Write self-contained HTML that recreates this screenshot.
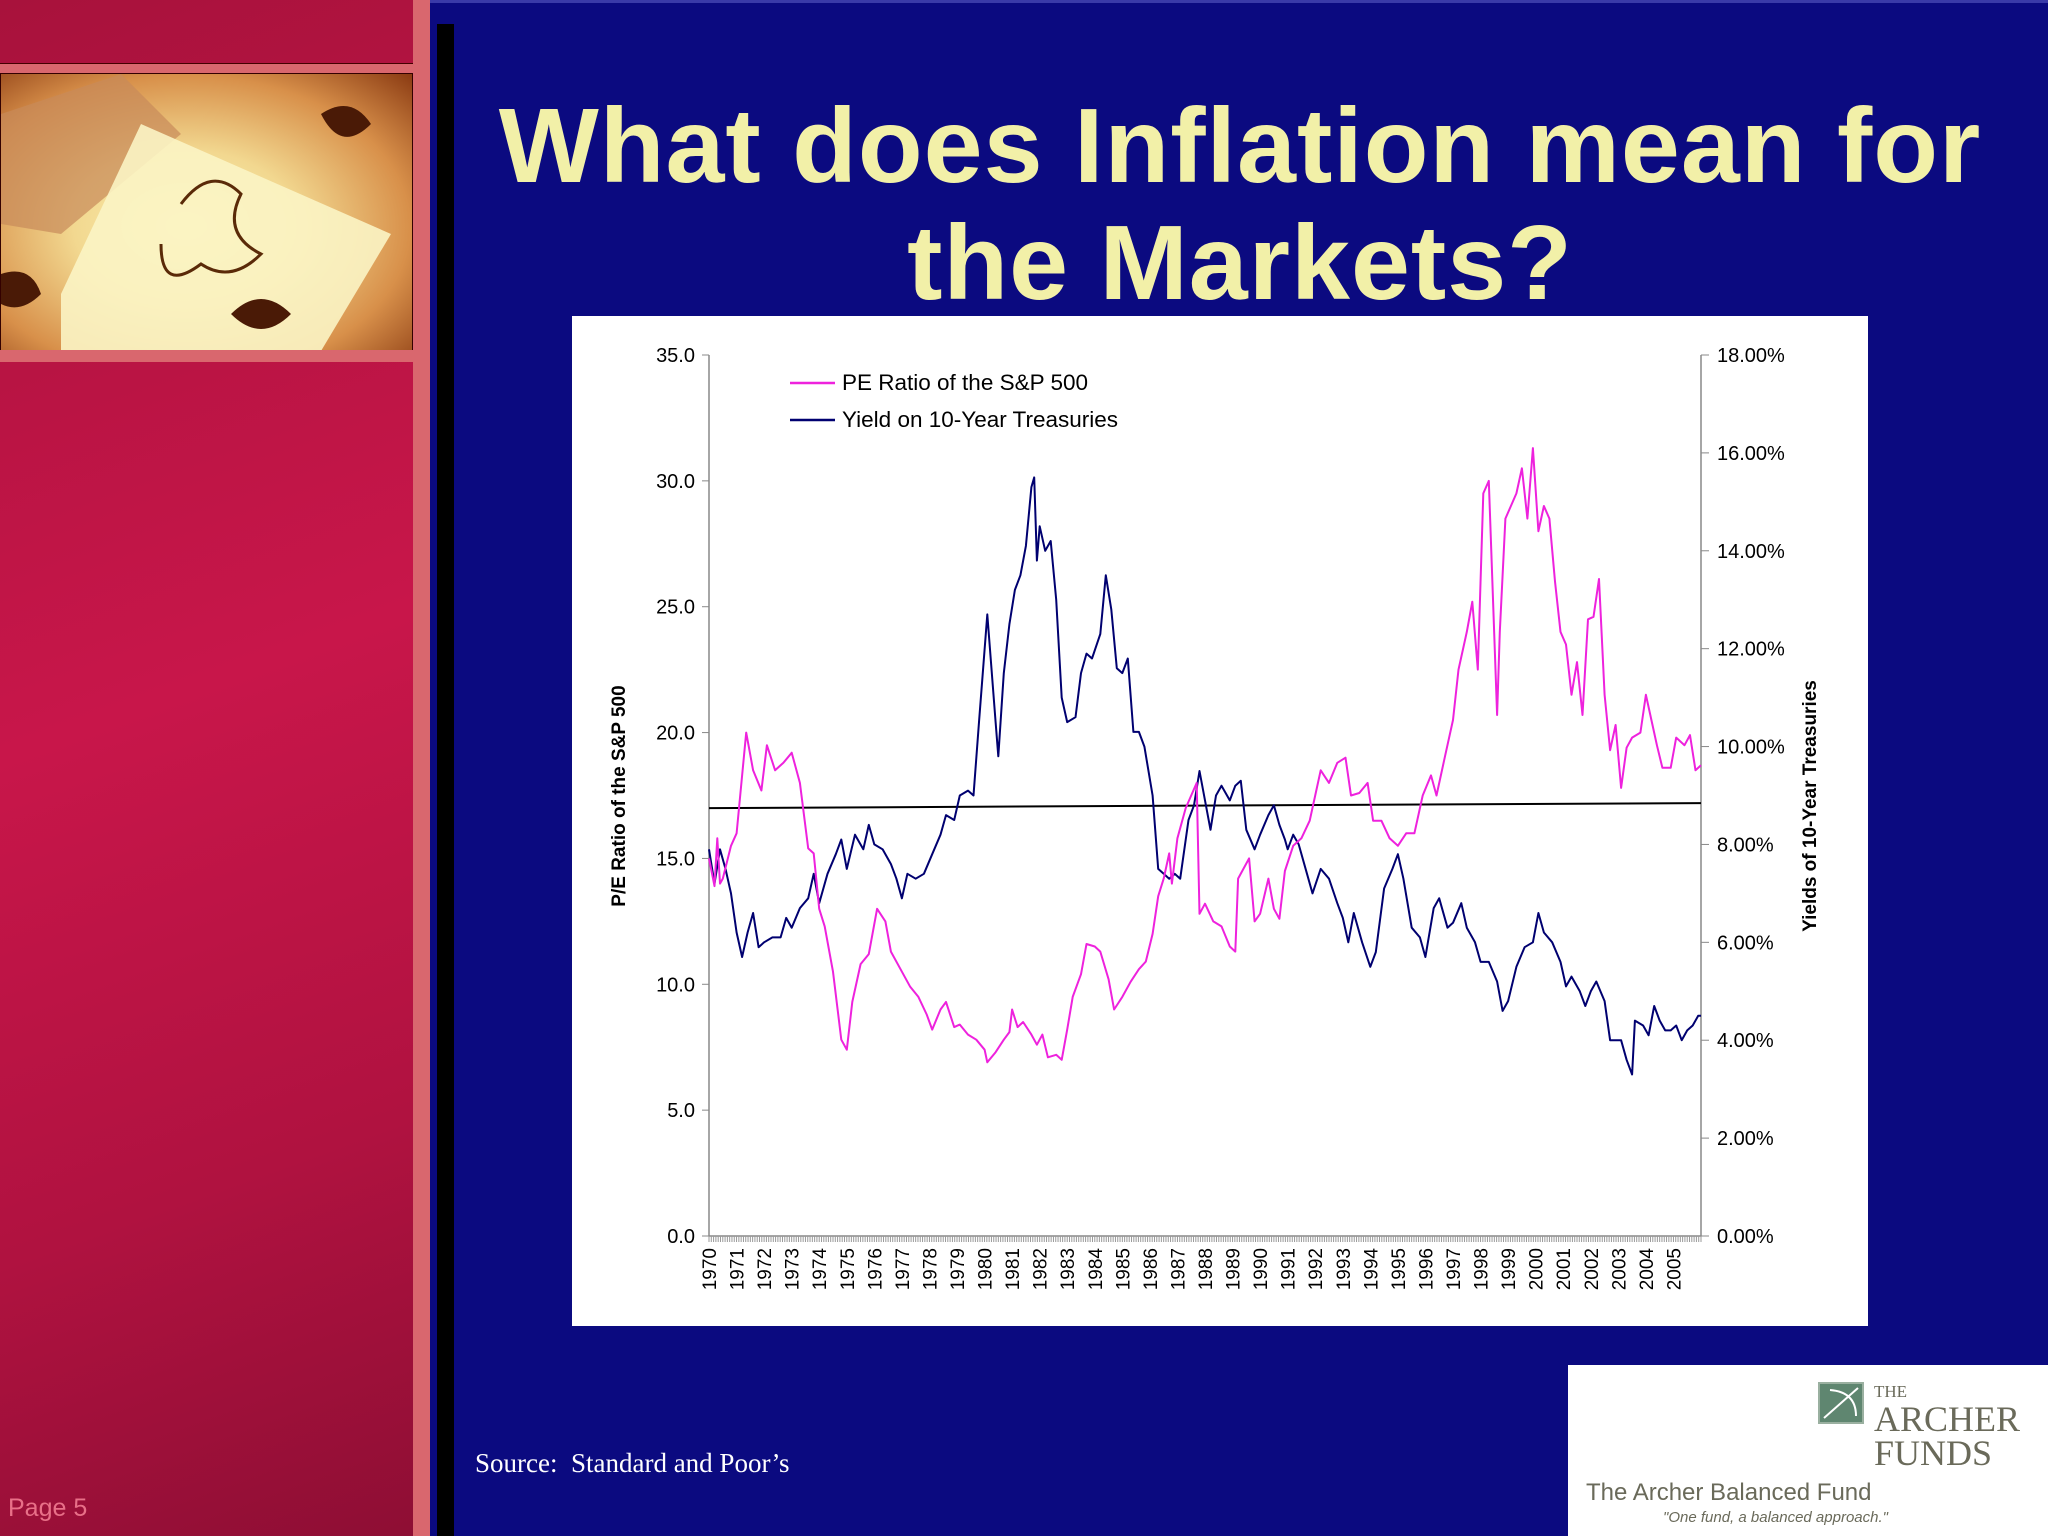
<!DOCTYPE html>
<html><head><meta charset="utf-8">
<style>
html,body{margin:0;padding:0}
body{width:2048px;height:1536px;position:relative;overflow:hidden;background:#0b0a80;font-family:"Liberation Sans",sans-serif}
.abs{position:absolute}
</style></head>
<body>
<div class="abs" style="left:0;top:0;width:2048px;height:3px;background:#3a3aa8"></div>
<div class="abs" style="left:0;top:0;width:413px;height:1536px;background:linear-gradient(160deg,#a8123c 0%,#c8164a 45%,#b01240 75%,#8e0e34 100%)"></div>
<div class="abs" style="left:0;top:63px;width:413px;height:10px;background:#d9676e;border-top:1px solid #400;"></div>
<div class="abs" style="left:0;top:73px;width:411px;height:277px;background:radial-gradient(ellipse at 45% 55%,#fbf1b0 0%,#f2d890 35%,#d8904a 70%,#8a3a12 100%);border:1px solid #300;overflow:hidden">
<svg width="411" height="277" viewBox="0 0 411 277"><path d="M0 40 L120 0 L180 60 L60 160 L0 150Z" fill="#c88a5a" opacity="0.7"/><path d="M60 220 L140 50 L390 160 L320 277 L60 277Z" fill="#fbf4c4" opacity="0.9"/><path d="M180 130 q30 -40 60 -10 q-20 40 20 60 q-30 30 -60 10 q-40 30 -40 -20" fill="none" stroke="#5a2a08" stroke-width="3"/><path d="M320 40 q30 -20 50 10 q-30 30 -50 -10Z" fill="#4a1a06"/><path d="M230 240 q30 -30 60 0 q-30 30 -60 0Z" fill="#4a1a06"/><path d="M0 200 q30 -10 40 20 q-20 20 -40 10Z" fill="#4a1a06"/></svg></div>
<div class="abs" style="left:0;top:350px;width:413px;height:12px;background:#d9676e"></div>
<div class="abs" style="left:413px;top:0;width:17px;height:1536px;background:#d9676e"></div>
<div class="abs" style="left:437px;top:24px;width:17px;height:1512px;background:#000"></div>
<div class="abs" style="left:8px;top:1494px;color:#e87088;font-size:25px">Page 5</div>
<div class="abs" style="left:460px;top:88px;width:1560px;text-align:center;color:#f2f0a8;font-weight:bold;font-size:106px;line-height:117px;letter-spacing:1px">What does Inflation mean for<br>the Markets?</div>
<div class="abs" style="left:475px;top:1448px;color:#fff;font-family:'Liberation Serif',serif;font-size:27px">Source:&nbsp; Standard and Poor’s</div>
<div class="abs" style="left:1568px;top:1365px;width:480px;height:171px;background:#fff">
<div class="abs" style="left:250px;top:17px;width:42px;height:38px;background:#5f8670;border:2px solid #9ab0a0"><svg width="42" height="38"><path d="M4 34 L38 4 M10 6 Q36 8 36 32" stroke="#fff" stroke-width="2" fill="none"/></svg></div>
<div class="abs" style="left:306px;top:14px;color:#6a6a5a;font-family:'Liberation Serif',serif;line-height:26px"><span style="font-size:17px">THE</span><br><span style="font-size:36px">ARCHER</span><br><span style="font-size:36px">FUNDS</span></div>
<div class="abs" style="left:18px;top:114px;color:#6a6a5a;font-size:24px">The Archer Balanced Fund</div>
<div class="abs" style="left:95px;top:144px;color:#6a6a5a;font-size:15px;font-style:italic">"One fund, a balanced approach."</div>
</div>
<div class="abs" style="left:572px;top:316px;width:1296px;height:1010px;background:#fff"></div>
<svg id="chart" class="abs" style="left:0;top:0" width="2048" height="1536"></svg>
<script>
const peDates=[1970.0,1970.2,1970.3,1970.4,1970.5,1970.8,1971.0,1971.35,1971.6,1971.9,1972.1,1972.4,1972.7,1973.0,1973.3,1973.6,1973.8,1974.0,1974.2,1974.5,1974.8,1975.0,1975.2,1975.5,1975.8,1976.1,1976.4,1976.6,1977.0,1977.3,1977.6,1977.9,1978.1,1978.4,1978.6,1978.9,1979.1,1979.4,1979.7,1980.0,1980.1,1980.4,1980.7,1980.9,1981.0,1981.2,1981.4,1981.7,1981.9,1982.1,1982.3,1982.6,1982.8,1983.0,1983.2,1983.5,1983.7,1984.0,1984.2,1984.5,1984.7,1985.0,1985.3,1985.6,1985.85,1986.1,1986.3,1986.5,1986.7,1986.8,1987.0,1987.3,1987.7,1987.8,1988.0,1988.3,1988.6,1988.9,1989.1,1989.2,1989.6,1989.8,1990.0,1990.3,1990.5,1990.7,1990.9,1991.2,1991.5,1991.8,1992.0,1992.2,1992.5,1992.8,1993.1,1993.3,1993.6,1993.9,1994.1,1994.4,1994.7,1995.0,1995.3,1995.6,1995.9,1996.2,1996.4,1996.7,1997.0,1997.2,1997.5,1997.7,1997.9,1998.1,1998.3,1998.6,1998.7,1998.9,1999.1,1999.3,1999.5,1999.7,1999.9,2000.1,2000.3,2000.5,2000.7,2000.9,2001.1,2001.3,2001.5,2001.7,2001.9,2002.1,2002.3,2002.5,2002.7,2002.9,2003.1,2003.3,2003.5,2003.8,2004.0,2004.2,2004.4,2004.6,2004.9,2005.1,2005.4,2005.6,2005.8,2006.0];
const peValues=[15.0,13.9,15.8,14.0,14.2,15.5,16.0,20.0,18.5,17.7,19.5,18.5,18.8,19.2,18.0,15.4,15.2,13.0,12.3,10.5,7.8,7.4,9.3,10.8,11.2,13.0,12.5,11.3,10.5,9.9,9.5,8.8,8.2,9.0,9.3,8.3,8.4,8.0,7.8,7.4,6.9,7.3,7.8,8.1,9.0,8.3,8.5,8.0,7.6,8.0,7.1,7.2,7.0,8.2,9.5,10.4,11.6,11.5,11.3,10.2,9.0,9.5,10.1,10.6,10.9,12.0,13.5,14.2,15.2,14.0,15.8,17.0,18.0,12.8,13.2,12.5,12.3,11.5,11.3,14.2,15.0,12.5,12.8,14.2,13.0,12.6,14.5,15.5,15.8,16.5,17.5,18.5,18.0,18.8,19.0,17.5,17.6,18.0,16.5,16.5,15.8,15.5,16.0,16.0,17.5,18.3,17.5,19.0,20.5,22.5,24.0,25.2,22.5,29.5,30.0,20.7,24.0,28.5,29.0,29.5,30.5,28.5,31.3,28.0,29.0,28.5,26.0,24.0,23.5,21.5,22.8,20.7,24.5,24.6,26.1,21.5,19.3,20.3,17.8,19.4,19.8,20.0,21.5,20.5,19.5,18.6,18.6,19.8,19.5,19.9,18.5,18.7];
const yDates=[1970.0,1970.2,1970.4,1970.6,1970.8,1971.0,1971.2,1971.4,1971.6,1971.8,1972.0,1972.3,1972.6,1972.8,1973.0,1973.3,1973.6,1973.8,1974.0,1974.3,1974.6,1974.8,1975.0,1975.3,1975.6,1975.8,1976.0,1976.3,1976.6,1976.8,1977.0,1977.2,1977.5,1977.8,1978.1,1978.4,1978.6,1978.9,1979.1,1979.4,1979.6,1979.8,1980.1,1980.4,1980.5,1980.7,1980.9,1981.1,1981.3,1981.5,1981.7,1981.8,1981.9,1982.0,1982.2,1982.4,1982.6,1982.8,1983.0,1983.3,1983.5,1983.7,1983.9,1984.2,1984.4,1984.6,1984.8,1985.0,1985.2,1985.4,1985.6,1985.8,1986.1,1986.3,1986.5,1986.7,1986.9,1987.1,1987.4,1987.6,1987.8,1988.0,1988.2,1988.4,1988.6,1988.9,1989.1,1989.3,1989.5,1989.8,1990.0,1990.3,1990.5,1990.7,1990.9,1991.0,1991.2,1991.4,1991.7,1991.9,1992.2,1992.5,1992.8,1993.0,1993.2,1993.4,1993.7,1994.0,1994.2,1994.5,1994.8,1995.0,1995.2,1995.5,1995.8,1996.0,1996.3,1996.5,1996.8,1997.0,1997.3,1997.5,1997.8,1998.0,1998.3,1998.6,1998.8,1999.0,1999.3,1999.6,1999.9,2000.1,2000.3,2000.6,2000.9,2001.1,2001.3,2001.6,2001.8,2002.0,2002.2,2002.5,2002.7,2002.9,2003.1,2003.3,2003.5,2003.6,2003.9,2004.1,2004.3,2004.5,2004.7,2004.9,2005.1,2005.3,2005.5,2005.7,2005.9,2006.0];
const yValues=[7.9,7.2,7.9,7.5,7.0,6.2,5.7,6.2,6.6,5.9,6.0,6.1,6.1,6.5,6.3,6.7,6.9,7.4,6.8,7.4,7.8,8.1,7.5,8.2,7.9,8.4,8.0,7.9,7.6,7.3,6.9,7.4,7.3,7.4,7.8,8.2,8.6,8.5,9.0,9.1,9.0,10.5,12.7,10.5,9.8,11.5,12.5,13.2,13.5,14.1,15.3,15.5,13.8,14.5,14.0,14.2,13.0,11.0,10.5,10.6,11.5,11.9,11.8,12.3,13.5,12.8,11.6,11.5,11.8,10.3,10.3,10.0,9.0,7.5,7.4,7.3,7.4,7.3,8.5,8.8,9.5,8.9,8.3,9.0,9.2,8.9,9.2,9.3,8.3,7.9,8.2,8.6,8.8,8.4,8.1,7.9,8.2,8.0,7.4,7.0,7.5,7.3,6.8,6.5,6.0,6.6,6.0,5.5,5.8,7.1,7.5,7.8,7.3,6.3,6.1,5.7,6.7,6.9,6.3,6.4,6.8,6.3,6.0,5.6,5.6,5.2,4.6,4.8,5.5,5.9,6.0,6.6,6.2,6.0,5.6,5.1,5.3,5.0,4.7,5.0,5.2,4.8,4.0,4.0,4.0,3.6,3.3,4.4,4.3,4.1,4.7,4.4,4.2,4.2,4.3,4.0,4.2,4.3,4.5,4.5];
const avgLineDates=[1970.0,2006.0];
const avgLineValues=[17.0,17.2];
const peTicks=[0,5,10,15,20,25,30,35];
const yTicks=[0,2,4,6,8,10,12,14,16,18];
const yearLabels=[1970,1971,1972,1973,1974,1975,1976,1977,1978,1979,1980,1981,1982,1983,1984,1985,1986,1987,1988,1989,1990,1991,1992,1993,1994,1995,1996,1997,1998,1999,2000,2001,2002,2003,2004,2005];

const L=709,R=1701,T=355,B=1236;
const sx=t=>L+(t-1970)/36*(R-L);
const syL=v=>B-v/35*(B-T);
const syR=v=>B-v/18*(B-T);
const svg=document.getElementById('chart');
const NS='http://www.w3.org/2000/svg';
function mk(tag,attrs){const e=document.createElementNS(NS,tag);for(const k in attrs)e.setAttribute(k,attrs[k]);svg.appendChild(e);return e;}

let e;
e=mk('line',{x1:L,y1:T,x2:L,y2:B,stroke:'#888','stroke-width':1.5});


e=mk('line',{x1:R,y1:T,x2:R,y2:B,stroke:'#888','stroke-width':1.5});


e=mk('line',{x1:L,y1:B,x2:R,y2:B,stroke:'#888','stroke-width':1.5});


for(let m=0;m<=432;m++){const x=sx(1970+m/12);
 e=mk('line',{x1:x,y1:B,x2:x,y2:B+6,stroke:'#999','stroke-width':1});
 
 }
peTicks.forEach(v=>{const y=syL(v);
 e=mk('line',{x1:L-7,y1:y,x2:L,y2:y,stroke:'#888'});
 
 
 e=mk('text',{x:L-14,y:y+7,'text-anchor':'end','font-size':20,fill:'#000','font-family':'Liberation Sans, sans-serif'});
 e.textContent=v.toFixed(1);
 
 });
yTicks.forEach(v=>{const y=syR(v);
 e=mk('line',{x1:R,y1:y,x2:R+8,y2:y,stroke:'#888'});
 
 
 e=mk('text',{x:R+16,y:y+7,'font-size':20,fill:'#000','font-family':'Liberation Sans, sans-serif'});
 e.textContent=v.toFixed(2)+'%';
 
 });
yearLabels.forEach(yr=>{const x=sx(yr)+7;
 e=mk('text',{x:0,y:0,'text-anchor':'end','font-size':19,fill:'#000','font-family':'Liberation Sans, sans-serif',transform:`translate(${x},${B+12}) rotate(-90)`});
 e.textContent=yr;
 
 });
e=mk('text',{x:0,y:0,'text-anchor':'middle','font-size':19,'font-weight':'bold',fill:'#000','font-family':'Liberation Sans, sans-serif',transform:`translate(625,796) rotate(-90)`});
e.textContent='P/E Ratio of the S&P 500';


e=mk('text',{x:0,y:0,'text-anchor':'middle','font-size':19,'font-weight':'bold',fill:'#000','font-family':'Liberation Sans, sans-serif',transform:`translate(1816,806) rotate(-90)`});
e.textContent='Yields of 10-Year Treasuries';



function path(dates,vals,fy){return dates.map((d,i)=>(i?'L':'M')+sx(d).toFixed(1)+' '+fy(vals[i]).toFixed(1)).join(' ');}
e=mk('path',{d:path(avgLineDates,avgLineValues,syL),stroke:'#000','stroke-width':2,fill:'none'});


e=mk('path',{d:path(yDates,yValues,syR),stroke:'#000070','stroke-width':2,fill:'none','stroke-linejoin':'round'});


e=mk('path',{d:path(peDates,peValues,syL),stroke:'#ee22dd','stroke-width':2,fill:'none','stroke-linejoin':'round'});



e=mk('line',{x1:790,y1:383,x2:835,y2:383,stroke:'#ee22dd','stroke-width':2.5});


e=mk('text',{x:842,y:390,'font-size':22.5,fill:'#000','font-family':'Liberation Sans, sans-serif'});
e.textContent='PE Ratio of the S&P 500';


e=mk('line',{x1:790,y1:420,x2:835,y2:420,stroke:'#000070','stroke-width':2.5});


e=mk('text',{x:842,y:427,'font-size':22.5,fill:'#000','font-family':'Liberation Sans, sans-serif'});
e.textContent='Yield on 10-Year Treasuries';


</script>
</body></html>
